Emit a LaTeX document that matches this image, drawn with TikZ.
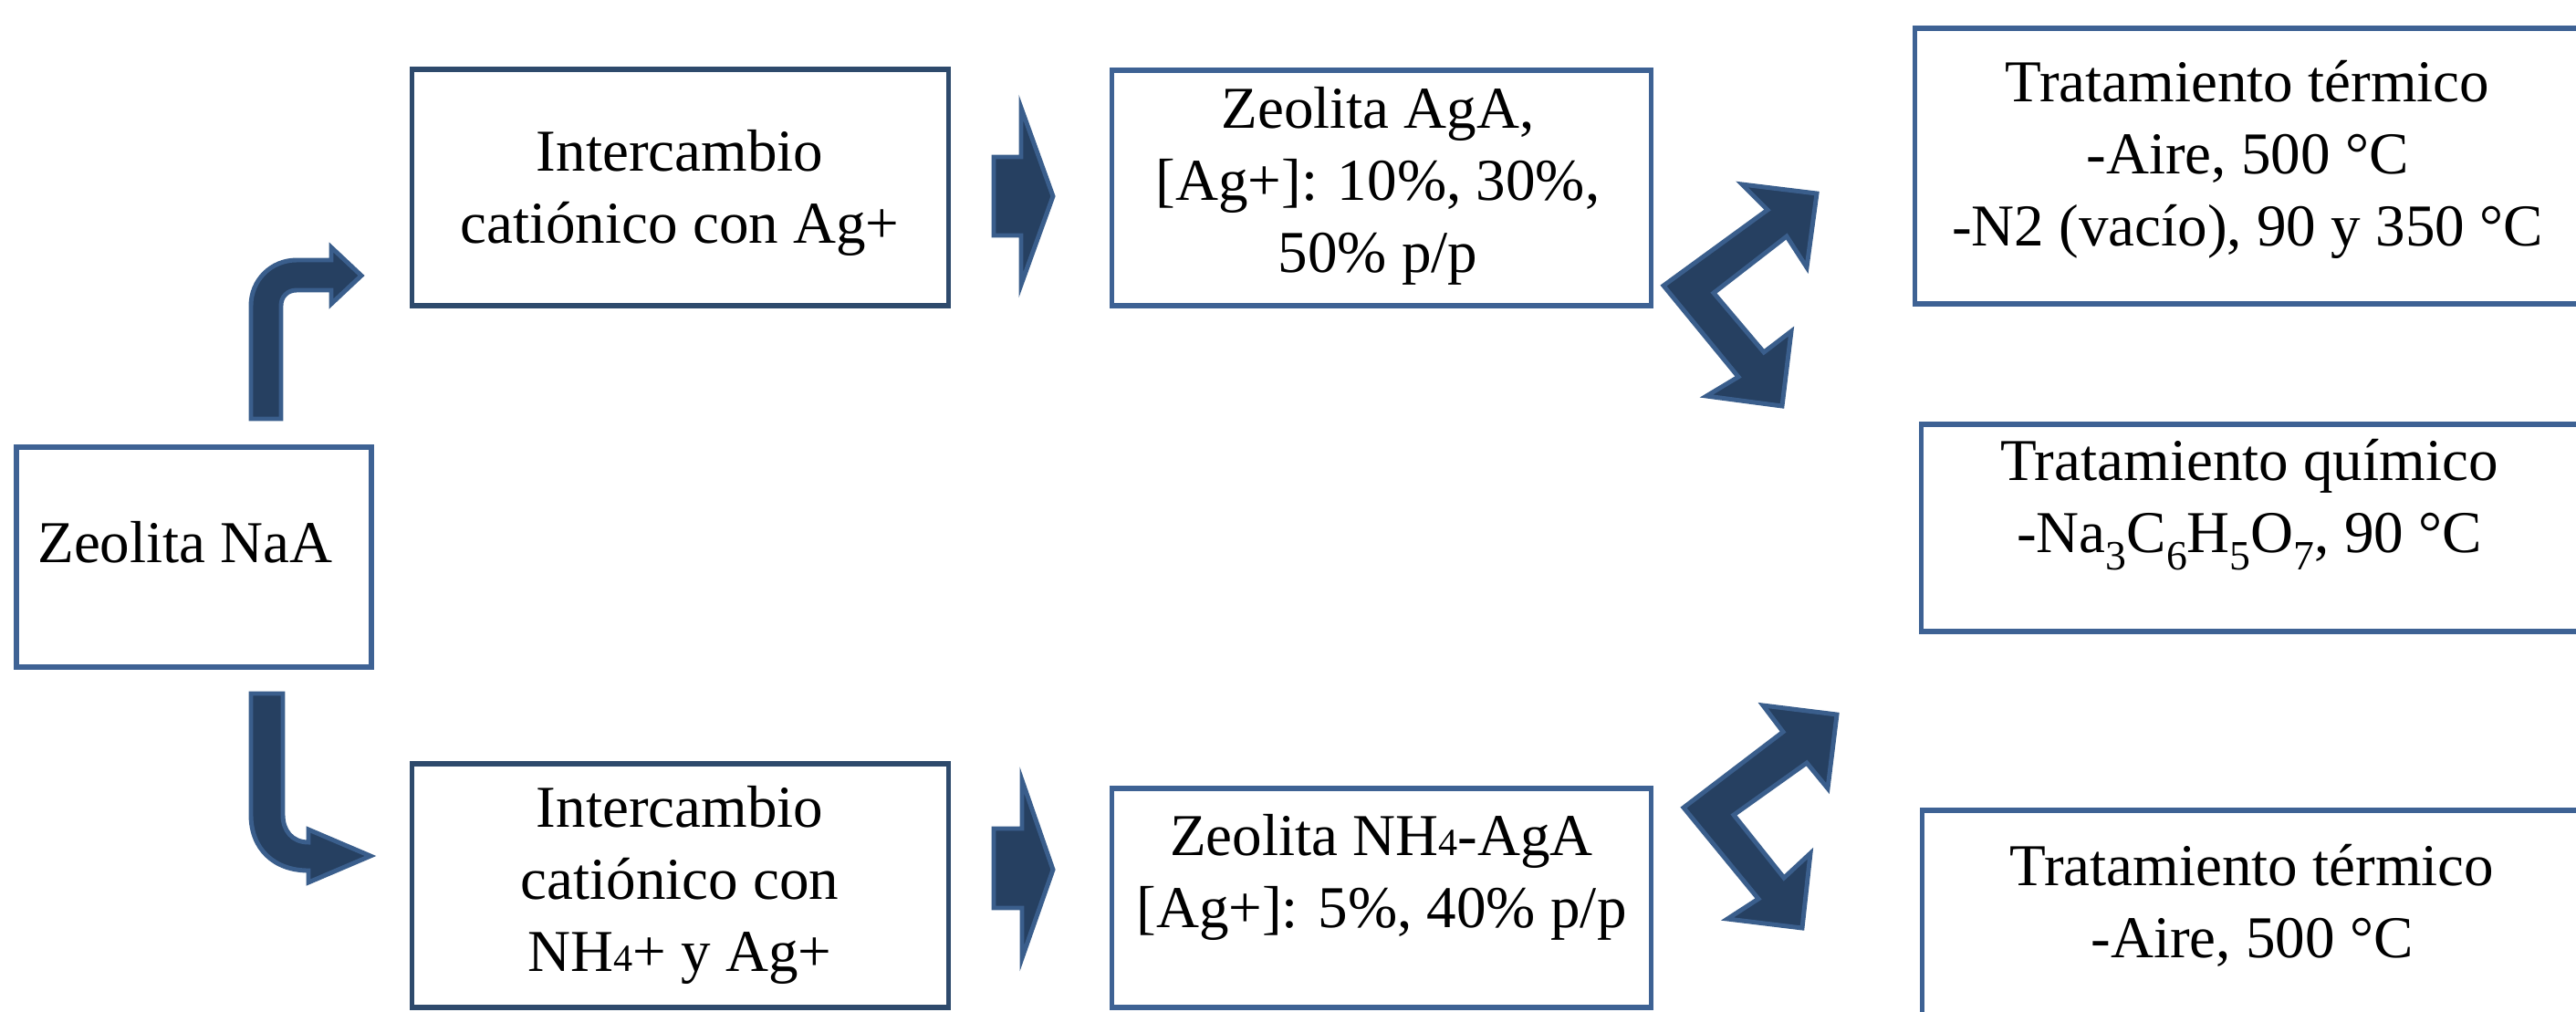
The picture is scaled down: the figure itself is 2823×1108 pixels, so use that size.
\documentclass[tikz,border=0pt]{standalone}
\usepackage{fontspec}
\setmainfont{Liberation Serif}
\definecolor{arrfill}{RGB}{38,64,97}
\definecolor{arrline}{RGB}{58,94,140}
\definecolor{boxA}{RGB}{46,74,108}
\definecolor{boxB}{RGB}{62,98,148}
\newcommand{\chemsub}[1]{\raisebox{-0.28em}{\fontsize{13}{13}\selectfont #1}}
\begin{document}
\begin{tikzpicture}[x=0.01cm,y=-0.01cm,
  box/.style={draw=boxB,line width=1.5pt,fill=white,rectangle,inner sep=0pt,outer sep=0pt},
  boxdark/.style={box,draw=boxA},
  txt/.style={align=center,font=\fontsize{18.5}{22.5}\selectfont,inner sep=0pt},
  blockarrow/.style={fill=arrfill,draw=arrline,line width=1.4pt,line join=miter}]
\useasboundingbox (0,0) rectangle (2823,1108);
\clip (0,0) rectangle (2823,1108);
\fill[white] (0,0) rectangle (2823,1108);

% boxes
\node[box,minimum width=3.89cm,minimum height=2.41cm] (naa) at (212.5,610.5) {};
\node[boxdark,minimum width=5.87cm,minimum height=2.59cm] (ionAg) at (745.5,205.5) {};
\node[box,minimum width=5.90cm,minimum height=2.58cm] (agA) at (1514,206) {};
\node[box,minimum width=8.01cm,minimum height=3.02cm] (term1) at (2499.5,182) {};
\node[box,minimum width=7.94cm,minimum height=2.27cm] (quim) at (2503,578.5) {};
\node[box,minimum width=7.93cm,minimum height=3.12cm] (term2) at (2503.5,1044) {};
\node[boxdark,minimum width=5.87cm,minimum height=2.67cm] (ionNH) at (745.5,970.5) {};
\node[box,minimum width=5.90cm,minimum height=2.40cm] (nhAgA) at (1514,984) {};

% texts
\node[txt] (tnaa) at (203,594) {Zeolita NaA};
\node[txt] (tionAg) at (745,211) {Intercambio\\catiónico con Ag+};
\node[txt] (tagA) at (1510,204) {Zeolita AgA,\\{}[Ag+]: 10\%, 30\%,\\50\% p/p};
\node[txt] (tterm1) at (2463,175) {Tratamiento térmico\\-Aire, 500 °C\\-N2 (vacío), 90 y 350 °C};
\node[txt] (tquim) at (2465,553) {Tratamiento químico\\-Na\chemsub{3}C\chemsub{6}H\chemsub{5}O\chemsub{7}, 90 °C};
\node[txt] (tterm2) at (2468,992) {Tratamiento térmico\\-Aire, 500 °C};
\node[txt] (tionNH) at (745,970) {Intercambio\\catiónico con\\NH{\fontsize{12}{12}\selectfont 4}+ y Ag+};
\node[txt] (tnhAgA) at (1514,961) {Zeolita NH{\fontsize{12}{12}\selectfont 4}-AgA\\{}[Ag+]: 5\%, 40\% p/p};

% bent arrow up
\draw[blockarrow] (275,459) -- (275,335) .. controls (275,307) and (297,285) .. (325,285)
  -- (363,285) -- (363,271) -- (396,302) -- (363,333) -- (363,318) -- (325,318)
  .. controls (315,318) and (308,325) .. (308,335) -- (308,459) -- cycle;
% bent arrow down
\draw[blockarrow] (275,760) -- (275,893) .. controls (275,930) and (300,954) .. (338,954)
  -- (338,967) -- (406,938) -- (338,909) -- (338,923)
  .. controls (320,923) and (310,910) .. (310,893) -- (310,760) -- cycle;

% straight block arrows
\draw[blockarrow] (1089,172) -- (1119,172) -- (1119,118) -- (1154,215) -- (1119,312) -- (1119,258) -- (1089,258) -- cycle;
\draw[blockarrow] (1089,908) -- (1120,908) -- (1120,855) -- (1154,953) -- (1120,1050) -- (1120,995) -- (1089,995) -- cycle;

% zigzag double arrows
\draw[blockarrow] (1823,313) -- (1937,230) -- (1909,202) -- (1991,212) -- (1980,293) -- (1958,259)
  -- (1878,321) -- (1933,386) -- (1963,363) -- (1953,445) -- (1870,434) -- (1905,413) -- cycle;
\draw[blockarrow] (1845,885) -- (1954,802) -- (1932,773) -- (2013,783) -- (2003,864) -- (1980,836)
  -- (1900,893) -- (1955,962) -- (1984,935) -- (1975,1017) -- (1893,1007) -- (1927,985) -- cycle;
\end{tikzpicture}
\end{document}
